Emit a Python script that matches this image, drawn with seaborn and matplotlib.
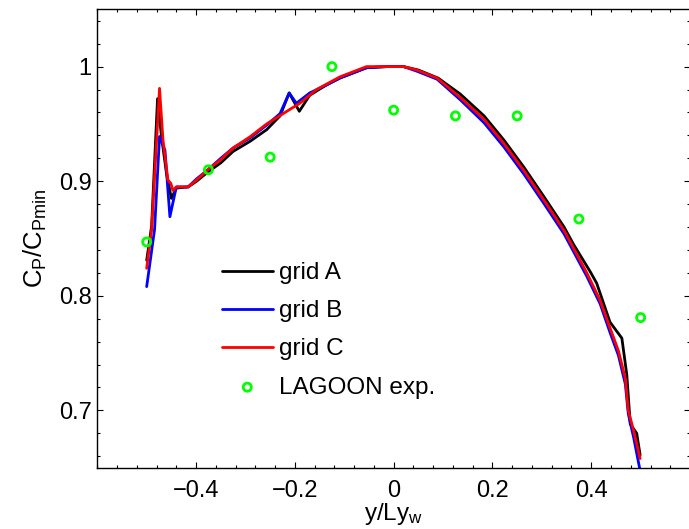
import seaborn as sns
import matplotlib.pyplot as plt
import pandas as pd
from matplotlib.ticker import MultipleLocator

# grid A (black)
xa = [-0.500, -0.490, -0.478, -0.470, -0.460, -0.450, -0.440, -0.416, -0.399, -0.376,
      -0.350, -0.325, -0.290, -0.257, -0.230, -0.2115, -0.191, -0.170, -0.136, -0.109,
      -0.055, -0.014, 0.020, 0.050, 0.090, 0.135, 0.183, 0.223, 0.264, 0.305,
      0.345, 0.364, 0.398, 0.411, 0.438, 0.462, 0.472, 0.479, 0.492, 0.499]
ya = [0.831, 0.861, 0.972, 0.939, 0.907, 0.885, 0.894, 0.895, 0.900, 0.908,
      0.916, 0.926, 0.935, 0.945, 0.957, 0.977, 0.961, 0.975, 0.984, 0.990,
      0.999, 1.000, 1.000, 0.997, 0.990, 0.976, 0.957, 0.936, 0.912, 0.886,
      0.860, 0.845, 0.821, 0.811, 0.777, 0.763, 0.731, 0.688, 0.680, 0.661]

# grid B (blue)
xb = [-0.500, -0.484, -0.474, -0.463, -0.453, -0.440, -0.416, -0.399, -0.376, -0.350,
      -0.325, -0.290, -0.257, -0.230, -0.2115, -0.197, -0.170, -0.136, -0.109, -0.055,
      -0.014, 0.020, 0.047, 0.088, 0.135, 0.183, 0.223, 0.264, 0.305, 0.345,
      0.391, 0.418, 0.438, 0.455, 0.469, 0.475, 0.486, 0.500]
yb = [0.808, 0.858, 0.939, 0.927, 0.869, 0.895, 0.895, 0.902, 0.910, 0.920,
      0.929, 0.938, 0.949, 0.959, 0.977, 0.968, 0.977, 0.984, 0.990, 0.999,
      1.000, 1.000, 0.996, 0.989, 0.971, 0.951, 0.930, 0.906, 0.880, 0.854,
      0.817, 0.793, 0.768, 0.748, 0.723, 0.697, 0.676, 0.645]

# grid C (red)
xc = [-0.500, -0.490, -0.474, -0.467, -0.457, -0.451, -0.447, -0.440, -0.416, -0.399,
      -0.376, -0.350, -0.325, -0.290, -0.257, -0.220, -0.190, -0.156, -0.109, -0.055,
      -0.014, 0.020, 0.047, 0.088, 0.135, 0.183, 0.223, 0.264, 0.305, 0.345,
      0.391, 0.418, 0.438, 0.455, 0.469, 0.475, 0.486, 0.499]
yc = [0.824, 0.858, 0.981, 0.936, 0.901, 0.898, 0.892, 0.895, 0.895, 0.901,
      0.910, 0.919, 0.929, 0.939, 0.950, 0.960, 0.968, 0.980, 0.991, 1.000,
      1.000, 1.000, 0.997, 0.990, 0.973, 0.954, 0.933, 0.909, 0.883, 0.857,
      0.820, 0.796, 0.772, 0.752, 0.728, 0.700, 0.682, 0.658]

# LAGOON experiment
x_exp = [-0.5, -0.375, -0.25, -0.125, 0.0, 0.125, 0.25, 0.375, 0.5]
y_exp = [0.847, 0.910, 0.921, 1.000, 0.962, 0.957, 0.957, 0.867, 0.781]

xtick_vals = [-0.4, -0.2, 0, 0.2, 0.4]
xtick_labels = ["\u22120.4", "\u22120.2", "0", "0.2", "0.4"]
ytick_vals = [0.7, 0.8, 0.9, 1.0]
ytick_labels = ["0.7", "0.8", "0.9", "1"]

grids = {"grid A": (xa, ya, "black"),
         "grid B": (xb, yb, "blue"),
         "grid C": (xc, yc, "red")}

sns.set_theme(style="ticks", rc={"axes.edgecolor": "black", "text.color": "black",
                                 "xtick.color": "black", "ytick.color": "black",
                                 "axes.labelcolor": "black", "axes.linewidth": 1.0})
plt.rcParams["font.family"] = ["Liberation Sans", "DejaVu Sans"]
plt.rcParams["mathtext.default"] = "regular"

fig = plt.figure(figsize=(6.89, 5.29), dpi=100)
ax = fig.add_axes([0.1412, 0.1159, 0.8603, 0.8665])

for name, (gx, gy, col) in grids.items():
    d = pd.DataFrame({"x": gx, "y": gy})
    sns.lineplot(data=d, x="x", y="y", sort=False, estimator=None, color=col,
                 lw=2, label=name, ax=ax)

sns.scatterplot(x=x_exp, y=y_exp, marker="o", s=34, facecolor="none",
                edgecolor="#00ff00", linewidth=2, label="LAGOON exp.", ax=ax,
                zorder=5)

ax.set_xlim(-0.6, 0.6)
ax.set_ylim(0.65, 1.05)
ax.set_xticks(xtick_vals)
ax.set_xticklabels(xtick_labels)
ax.set_yticks(ytick_vals)
ax.set_yticklabels(ytick_labels)
ax.xaxis.set_minor_locator(MultipleLocator(0.04))
ax.yaxis.set_minor_locator(MultipleLocator(0.02))
ax.tick_params(which="both", direction="in", top=True, right=True, labelsize=17, width=0.8)
ax.tick_params(axis="x", which="major", length=4.5, pad=9)
ax.tick_params(axis="y", which="major", length=4.5, pad=4)
ax.tick_params(which="minor", length=2.5)
for s in ax.spines.values():
    s.set_visible(True)

ax.set_xlabel("$y/Ly_w$", fontsize=17.5, labelpad=-1)
ax.set_ylabel("$C_P/C_{Pmin}$", fontsize=18.5, labelpad=7)

h, l = ax.get_legend_handles_labels()
ax.legend(h, l, loc="upper left", bbox_to_anchor=(0.21, 0.448), frameon=False,
          fontsize=17.5, handlelength=2.1, handletextpad=0.25, labelspacing=0.66,
          borderpad=0, borderaxespad=0)

plt.savefig("out.png", dpi=100)
